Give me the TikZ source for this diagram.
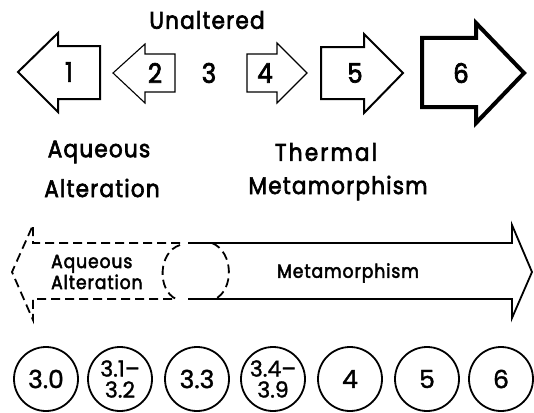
\documentclass[tikz,border=0pt]{standalone}
\usepackage{fontspec}
\setmainfont{Poppins}
\newfontfamily\lblfont{Poppins}[FakeStretch=0.9,FakeBold=2.6,LetterSpace=5]
\newfontfamily\numfont{Poppins}[FakeBold=1.4]
\begin{document}
\begin{tikzpicture}[x=1pt,y=-1pt,
  lbl/.style={inner sep=0pt,font=\fontsize{24}{26}\lblfont},
  dig/.style={inner sep=0pt,font=\fontsize{27}{28}\lblfont},
  inlbl/.style={inner sep=0pt,align=left,font=\fontsize{19}{21}\lblfont},
  stage/.style={circle,draw,line width=1.8pt,minimum size=64pt,inner sep=0pt,align=center,font=\fontsize{25}{26}\numfont},
  twoline/.style={font=\fontsize{22}{21}\numfont},
  thinarr/.style={line width=1.1pt,line join=miter},
  medarr/.style={line width=2pt,line join=miter},
  bigarr/.style={line width=4pt,line join=miter},
  band/.style={line width=1.8pt,line join=miter},
  dband/.style={band,dash pattern=on 9pt off 5pt}]
\useasboundingbox (0,0) rectangle (534,412);
% top arrows
\draw[medarr] (100,46) -- (58,46) -- (58,33) -- (18,72) -- (58,112) -- (58,99) -- (100,99) -- cycle;
\draw[thinarr] (175,54) -- (145,54) -- (145,44) -- (113,73) -- (145,103) -- (145,92) -- (175,92) -- cycle;
\draw[thinarr] (247,54) -- (277,54) -- (277,43) -- (307,73) -- (277,103) -- (277,92) -- (247,92) -- cycle;
\draw[medarr] (321,47) -- (364,47) -- (364,34) -- (403,73) -- (364,113) -- (364,99) -- (321,99) -- cycle;
\draw[bigarr] (422,38) -- (476,38) -- (476,23) -- (524,73) -- (476,123) -- (476,107) -- (422,107) -- cycle;
\node[dig] (n1) at (69,72) {1};
\node[dig] (n2) at (155,73) {2};
\node[dig] (n3) at (209,73) {3};
\node[dig] (n4) at (265,73) {4};
\node[dig] (n5) at (355,73) {5};
\node[dig] (n6) at (461,73) {6};
\node[lbl] (unalt) at (207,20) {Unaltered};
\node[lbl] (aq) at (99,152) {Aqueous};
\node[lbl] (alt) at (102,188) {Alteration};
\node[lbl,font=\fontsize{24}{26}\lblfont\addfontfeature{LetterSpace=9}] (th) at (326,152) {Thermal};
\node[lbl] (meta) at (338,188) {Metamorphism};
% band
\draw[dband] (180,243) -- (33,243) -- (33,225) -- (12,272) -- (33,320) -- (33,299) -- (176,299);
\draw[dband] (180,245) .. controls (158,252) and (157,290) .. (176,299);
\draw[dband] (212,243) .. controls (234,252) and (234,290) .. (215,299);
\draw[band] (188,243) -- (512,243) -- (512,225) -- (532,272) -- (512,318) -- (512,299) -- (188,299);
\node[inlbl,anchor=west] (inaq) at (51,272) {Aqueous\\Alteration};
\node[inlbl] (inmeta) at (348,273) {Metamorphism};
% circles
\node[stage] (c1) at (46,379) {3.0};
\node[stage,twoline] (c2) at (120,379) {3.1–\\3.2};
\node[stage] (c3) at (197,379) {3.3};
\node[stage,twoline] (c4) at (273,379) {3.4–\\3.9};
\node[stage] (c5) at (350,379) {4};
\node[stage] (c6) at (427,379) {5};
\node[stage] (c7) at (501,379) {6};
\end{tikzpicture}
\end{document}
